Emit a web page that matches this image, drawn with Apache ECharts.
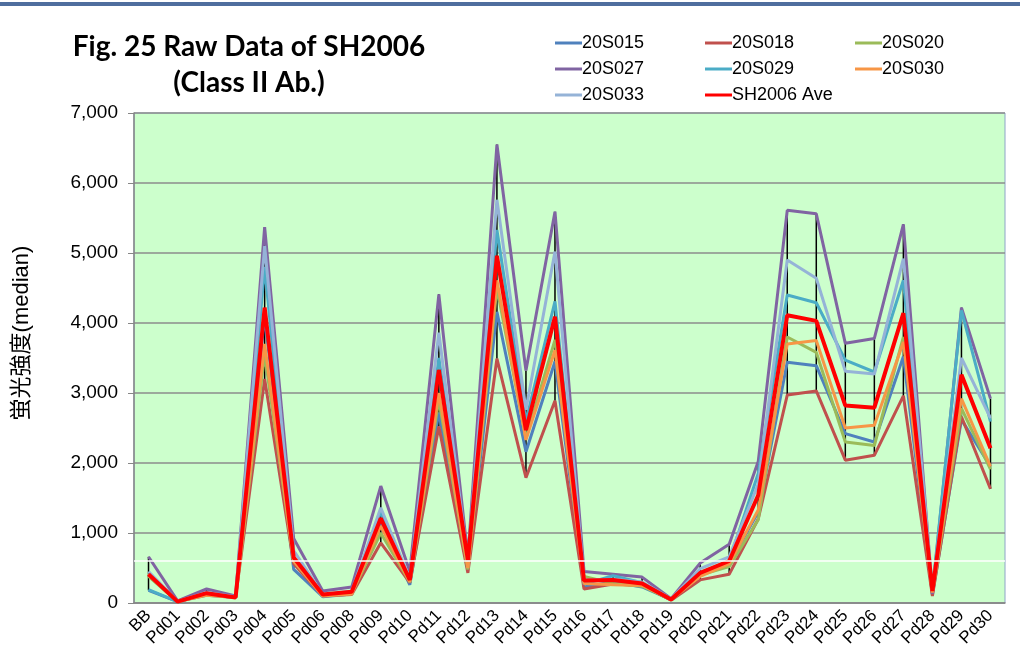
<!DOCTYPE html>
<html>
<head>
<meta charset="utf-8">
<script src="https://cdn.jsdelivr.net/npm/echarts@6/dist/echarts.min.js"></script>
<style>
  html, body { margin: 0; padding: 0; background: #fff; }
  #ec { width: 1020px; height: 659px; }
</style>
</head>
<body>
<div id="ec"></div>
<script>
// categories
var cats = ['BB','Pd01','Pd02','Pd03','Pd04','Pd05','Pd06','Pd08','Pd09','Pd10','Pd11','Pd12','Pd13','Pd14','Pd15',
            'Pd16','Pd17','Pd18','Pd19','Pd20','Pd21','Pd22','Pd23','Pd24','Pd25','Pd26','Pd27','Pd28','Pd29','Pd30'];

// raw values per sample
var s20S015 = [180,20,110,80,4100,480,90,130,1150,260,2720,480,4160,2160,3450,230,300,230,50,400,560,1300,3440,3390,2420,2300,3520,120,2620,1950];
var s20S018 = [390,20,120,80,3200,560,100,120,860,290,2520,430,3490,1790,2890,200,270,250,40,330,410,1200,2970,3030,2040,2110,2960,100,2660,1630];
var s20S020 = [380,20,120,80,3550,600,110,140,1000,300,2900,480,4500,2350,3760,380,280,240,50,400,520,1190,3800,3580,2300,2250,3800,150,2780,1910];
var s20S027 = [660,30,200,100,5370,920,170,230,1670,450,4410,650,6550,3320,5590,450,410,370,60,570,840,2020,5610,5560,3710,3780,5410,130,4220,2920];
var s20S029 = [190,20,120,80,4800,620,100,150,1300,300,3500,550,5330,2600,4310,270,390,290,50,430,600,1850,4400,4290,3470,3300,4610,180,4180,2590];
var s20S030 = [420,20,110,80,3700,600,100,130,1100,300,3000,500,4610,2330,3610,280,260,250,50,380,560,1330,3700,3750,2500,2540,3730,150,2920,1950];
var s20S033 = [450,25,150,90,5100,750,120,170,1360,350,3860,600,5760,2760,5020,330,340,300,60,490,660,1700,4900,4640,3310,3270,4920,200,3500,2640];
var aveSH2006 = [410,20,140,80,4220,650,120,160,1210,330,3330,610,4960,2470,4090,320,330,280,50,430,600,1540,4110,4030,2820,2790,4140,170,3260,2210];

var yTicks = [0,1000,2000,3000,4000,5000,6000,7000];
var cutoff = 600;

var samples = [
  {name:'20S015', data:s20S015, color:'#4F81BD'},
  {name:'20S018', data:s20S018, color:'#C0504D'},
  {name:'20S020', data:s20S020, color:'#9BBB59'},
  {name:'20S027', data:s20S027, color:'#8064A2'},
  {name:'20S029', data:s20S029, color:'#4BACC6'},
  {name:'20S030', data:s20S030, color:'#F79646'},
  {name:'20S033', data:s20S033, color:'#95B3D7'}
];

// high-low range per category
var hiLo = cats.map(function (c, i) {
  var vals = samples.map(function (s) { return s.data[i]; });
  return [i, Math.min.apply(null, vals), Math.max.apply(null, vals)];
});

var myChart = echarts.init(document.getElementById('ec'));
var font = '"Liberation Sans", Arial, "Noto Sans CJK JP", sans-serif';

var series = [{
  type: 'custom',
  name: 'hilo',
  data: hiLo,
  z: 1,
  silent: true,
  renderItem: function (params, api) {
    var lo = api.coord([api.value(0), api.value(1)]);
    var hi = api.coord([api.value(0), api.value(2)]);
    return {
      type: 'line',
      shape: {x1: lo[0], y1: lo[1], x2: hi[0], y2: hi[1]},
      style: {stroke: '#000', lineWidth: 1.5}
    };
  }
}];

samples.forEach(function (s) {
  series.push({
    type: 'line', name: s.name, data: s.data,
    showSymbol: false, symbol: 'none', z: 2,
    itemStyle: {color: s.color},
    lineStyle: {color: s.color, width: 3}
  });
});

series.push({
  type: 'line', name: 'SH2006 Ave', data: aveSH2006,
  showSymbol: false, symbol: 'none', z: 3,
  itemStyle: {color: '#FF0000'},
  lineStyle: {color: '#FF0000', width: 4},
  markLine: {
    silent: true, symbol: 'none', label: {show: false},
    lineStyle: {color: '#FFFFFF', width: 1.5, type: 'solid'},
    data: [{yAxis: cutoff}]
  }
});

function legendCol(left, names) {
  return {
    orient: 'vertical', left: left, top: 29, itemGap: 8,
    icon: 'rect', itemWidth: 27, itemHeight: 3,
    textStyle: {fontFamily: font, fontSize: 18, color: '#000', padding: [0, 0, 0, -5]},
    data: names
  };
}

var option = {
  backgroundColor: '#fff',
  animation: false,
  title: {
    text: 'Fig. 25 Raw Data of SH2006\n(Class II Ab.)',
    left: 244, top: 24, textAlign: 'center',
    textStyle: {fontFamily: 'Lato, "Open Sans", sans-serif', fontWeight: 'bold', fontSize: 28, lineHeight: 36, color: '#000'}
  },
  legend: [
    legendCol(550, ['20S015','20S027','20S033']),
    legendCol(700, ['20S018','20S029','SH2006 Ave']),
    legendCol(850, ['20S020','20S030'])
  ],
  graphic: [
    {type: 'rect', shape: {x: 0, y: 2, width: 1020, height: 4}, style: {fill: '#4F6E9E'}},
    // y axis title, placed like the original (a bit above the plot middle)
    {type: 'text', x: 22, y: 333, rotation: Math.PI / 2,
     style: {text: '蛍光強度(median)', fontFamily: font, fontSize: 22, fill: '#000',
             align: 'center', verticalAlign: 'middle'}}
  ],
  grid: {
    left: 134, right: 15, top: 113, bottom: 56,
    show: true, backgroundColor: '#CCFFCC', borderColor: '#8EA4C8', borderWidth: 1
  },
  xAxis: {
    type: 'category', data: cats, boundaryGap: true,
    axisLine: {lineStyle: {color: '#868686', width: 1.5}},
    axisTick: {show: false},
    axisLabel: {rotate: 45, fontFamily: font, fontSize: 17, color: '#000', margin: 10, interval: 0}
  },
  yAxis: {
    type: 'value', min: yTicks[0], max: yTicks[yTicks.length - 1], interval: 1000,
    axisLine: {show: true, lineStyle: {color: '#868686', width: 1.5}},
    axisTick: {show: true, length: 6, lineStyle: {color: '#868686'}},
    splitLine: {lineStyle: {color: '#8C8C8C', width: 1.5}},
    axisLabel: {
      fontFamily: font, fontSize: 19, color: '#000', margin: 16,
      formatter: function (v) { return v.toLocaleString('en-US'); }
    }
  },
  series: series
};

myChart.setOption(option);
</script>
</body>
</html>
